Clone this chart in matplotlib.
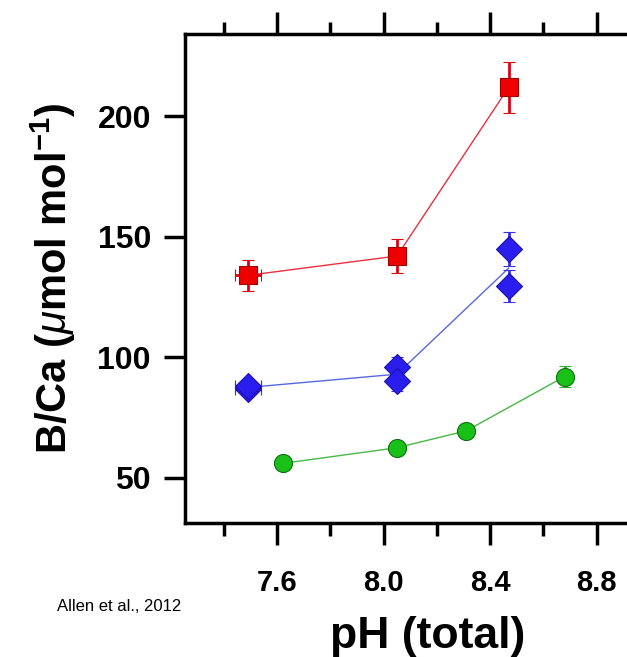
import matplotlib.pyplot as plt
from matplotlib.ticker import MultipleLocator

plt.rcParams['font.family'] = ['Liberation Sans', 'DejaVu Sans']
plt.rcParams['mathtext.fontset'] = 'custom'
plt.rcParams['mathtext.rm'] = 'Liberation Sans:bold'
plt.rcParams['mathtext.bf'] = 'Liberation Sans:bold'
plt.rcParams['mathtext.it'] = 'Liberation Sans:italic'

# red squares
red_ph = [7.49, 8.05, 8.47]
red_bca = [134, 142, 212]
red_yerr = [6.5, 7, 10.5]
red_xerr = [0.05, 0, 0]

# blue diamonds: mean line + individual runs
blue_ph_mean = [7.49, 8.05, 8.47]
blue_bca_mean = [87.5, 93, 137]
blue_ph = [7.49, 7.49, 8.05, 8.05, 8.47, 8.47]
blue_bca = [87, 88, 96, 90, 145, 129.5]
blue_yerr = [3, 3, 4, 4, 7, 6.5]
blue_xerr = [0.05, 0.05, 0, 0, 0, 0]

# green circles
green_ph = [7.62, 8.05, 8.31, 8.68]
green_bca = [56, 62.5, 69.5, 92]
green_yerr = [2, 2.5, 2, 4.5]
green_xerr = [0, 0, 0, 0.02]

fig = plt.figure(figsize=(6.27, 6.57), dpi=100)
ax = fig.add_axes([0.295, 0.204, 0.72, 0.744])

ax.plot(red_ph, red_bca, '-', color='#e83040', lw=1.0, zorder=2)
ax.errorbar(red_ph, red_bca, yerr=red_yerr, xerr=red_xerr, fmt='s', ms=13,
            mfc='#ee0000', mec='#a00000', mew=0.8, ecolor='#e00010',
            elinewidth=2, capsize=4, capthick=2, zorder=3)

ax.plot(blue_ph_mean, blue_bca_mean, '-', color='#5868e0', lw=1.0, zorder=2)
ax.errorbar(blue_ph, blue_bca, yerr=blue_yerr, xerr=blue_xerr, fmt='D', ms=13.5,
            mfc='#2a1eee', mec='#1a10b0', mew=0.8, ecolor='#3a30e8',
            elinewidth=2, capsize=4, capthick=2, zorder=3)

ax.plot(green_ph, green_bca, '-', color='#48b848', lw=1.0, zorder=2)
ax.errorbar(green_ph, green_bca, yerr=green_yerr, xerr=green_xerr, fmt='o', ms=13,
            mfc='#18c018', mec='#107010', mew=0.8, ecolor='#30b030',
            elinewidth=2, capsize=4, capthick=2, zorder=3)

ax.set_xlim(7.253, 8.95)
ax.set_ylim(31.3, 234)

ax.xaxis.set_minor_locator(MultipleLocator(0.2))
ax.set_xticks([7.6, 8.0, 8.4, 8.8])
ax.set_xticklabels(['7.6', '8.0', '8.4', '8.8'])
ax.set_yticks([50, 100, 150, 200])

for s in ax.spines.values():
    s.set_linewidth(2.5)
ax.spines['right'].set_visible(False)

ax.tick_params(axis='x', which='major', direction='out', length=16, width=2.5,
               top=True, labelsize=21, pad=17)
ax.tick_params(axis='x', which='minor', direction='out', length=9, width=2.5, top=True)
ax.tick_params(axis='y', which='major', direction='out', length=15, width=2.5,
               right=False, labelsize=23, pad=9.5)
for lab in ax.get_xticklabels() + ax.get_yticklabels():
    lab.set_fontweight('bold')

ax.set_xlabel('pH (total)', fontsize=32, fontweight='bold')
ax.xaxis.set_label_coords(0.538, -0.19)
ax.set_ylabel(r'B/Ca ($\mu$mol mol$^{-1}$)', fontsize=30, fontweight='bold', labelpad=14)

fig.text(0.091, 0.077, 'Allen et al., 2012', fontsize=12, va='center')

fig.savefig('out.png', dpi=100)
